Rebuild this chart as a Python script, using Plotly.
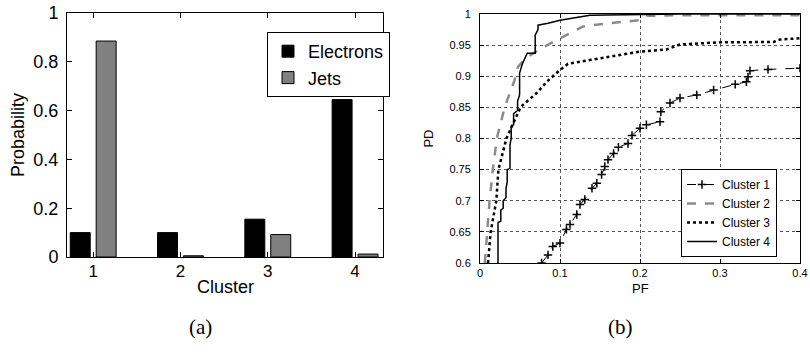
import plotly.graph_objects as go

# ---------------- data: panel (a) ----------------
clusters = [1, 2, 3, 4]
electrons = [0.10, 0.10, 0.155, 0.645]
jets = [0.885, 0.005, 0.092, 0.012]

# ---------------- data: panel (b) ROC curves ----------------
c1_pf = [0.077, 0.085, 0.091, 0.100, 0.108, 0.1125, 0.121, 0.125, 0.131, 0.140, 0.146, 0.152, 0.156, 0.160,
         0.167, 0.173, 0.185, 0.190, 0.200, 0.208, 0.225, 0.226, 0.2375, 0.250, 0.271, 0.292, 0.319, 0.333,
         0.335, 0.3375, 0.36, 0.40]
c1_pd = [0.600, 0.613, 0.6265, 0.632, 0.654, 0.662, 0.678, 0.694, 0.702, 0.720, 0.728, 0.742, 0.755, 0.766,
         0.776, 0.786, 0.792, 0.805, 0.8165, 0.822, 0.827, 0.843, 0.857, 0.865, 0.870, 0.878, 0.887, 0.891,
         0.899, 0.909, 0.911, 0.913]

c2_pf = [0.006, 0.009, 0.012, 0.016, 0.021, 0.031, 0.043, 0.0475, 0.055, 0.063, 0.081, 0.100, 0.1125, 0.129,
         0.160, 0.200, 0.208, 0.250, 0.400]
c2_pd = [0.600, 0.650, 0.700, 0.750, 0.800, 0.851, 0.893, 0.915, 0.926, 0.934, 0.948, 0.961, 0.969, 0.980,
         0.985, 0.990, 0.997, 0.998, 0.998]

c3_pf = [0.010, 0.0133, 0.0204, 0.023, 0.033, 0.038, 0.051, 0.070, 0.085, 0.100, 0.110, 0.1375, 0.200, 0.233,
         0.250, 0.300, 0.367, 0.375, 0.400]
c3_pd = [0.600, 0.650, 0.700, 0.750, 0.800, 0.815, 0.851, 0.872, 0.893, 0.910, 0.920, 0.926, 0.9395, 0.943,
         0.951, 0.9545, 0.955, 0.959, 0.961]

c4_pf = [0.0225, 0.0225, 0.026, 0.026, 0.029, 0.029, 0.0325, 0.0325, 0.034, 0.034, 0.0375, 0.0375, 0.039,
         0.039, 0.042, 0.042, 0.047, 0.047, 0.0495, 0.0495, 0.053, 0.059, 0.069, 0.069, 0.0725, 0.0725, 0.085,
         0.100, 0.1375, 0.200, 0.250, 0.400]
c4_pd = [0.600, 0.665, 0.667, 0.685, 0.688, 0.700, 0.705, 0.720, 0.730, 0.750, 0.752, 0.790, 0.800,
         0.820, 0.822, 0.840, 0.845, 0.860, 0.870, 0.905, 0.920, 0.937, 0.937, 0.966, 0.975, 0.982, 0.985,
         0.990, 0.998, 0.9995, 1.000, 1.000]

FONT = "Liberation Sans, Arial, sans-serif"
W, H = 810, 352

def px_x(p):
    return p / W

def px_y(p):
    return 1 - p / H

fig = go.Figure()

# panel (a) bars
fig.add_trace(go.Bar(x=clusters, y=electrons, name="Electrons", marker=dict(color="#000000", line=dict(color="#000000", width=1)),
                     xaxis="x", yaxis="y", legend="legend"))
fig.add_trace(go.Bar(x=clusters, y=jets, name="Jets", marker=dict(color="#808080", line=dict(color="#000000", width=1)),
                     xaxis="x", yaxis="y", legend="legend"))

# panel (b) curves
fig.add_trace(go.Scatter(x=c1_pf, y=c1_pd, name="Cluster 1", mode="lines+markers",
                         line=dict(color="#000000", width=1, dash="dash"),
                         marker=dict(symbol="cross-thin", size=6, line=dict(color="#000000", width=1.5)),
                         xaxis="x2", yaxis="y2", legend="legend2"))
fig.add_trace(go.Scatter(x=c2_pf, y=c2_pd, name="Cluster 2", mode="lines",
                         line=dict(color="#8c8c8c", width=2.5, dash="dash"),
                         xaxis="x2", yaxis="y2", legend="legend2"))
fig.add_trace(go.Scatter(x=c3_pf, y=c3_pd, name="Cluster 3", mode="lines",
                         line=dict(color="#000000", width=2.5, dash="dot"),
                         xaxis="x2", yaxis="y2", legend="legend2"))
fig.add_trace(go.Scatter(x=c4_pf, y=c4_pd, name="Cluster 4", mode="lines",
                         line=dict(color="#000000", width=1.5),
                         xaxis="x2", yaxis="y2", legend="legend2"))

axis_common = dict(showline=True, linecolor="#000000", linewidth=1, mirror="ticks", ticks="inside",
                   tickcolor="#000000", zeroline=False, color="#000000", automargin=False)

def label(text, x, y, size, family=FONT):
    return dict(text=text, x=px_x(x), y=px_y(y), xref="paper", yref="paper", showarrow=False,
                xanchor="center", yanchor="middle", font=dict(family=family, size=size))

fig.update_layout(
    width=W, height=H,
    margin=dict(l=0, r=0, t=0, b=0, autoexpand=False),
    paper_bgcolor="white", plot_bgcolor="white",
    font=dict(family=FONT, color="#000000"),
    barmode="group", bargap=0.406, bargroupgap=0.23,
    xaxis=dict(domain=[px_x(67), px_x(383)], anchor="y", range=[0.7, 4.32],
               tickvals=clusters, ticktext=[str(c) for c in clusters], ticklen=5,
               tickfont=dict(size=17), showgrid=False, ticklabelstandoff=-1, **axis_common),
    yaxis=dict(domain=[px_y(257), px_y(13)], anchor="x", range=[0, 1],
               tickvals=[0, 0.2, 0.4, 0.6, 0.8, 1], ticktext=["0", "0.2", "0.4", "0.6", "0.8", "1"],
               ticklen=5, tickfont=dict(size=18), showgrid=False, ticklabelstandoff=4,
               title=dict(text="Probability", font=dict(size=18), standoff=4), **axis_common),
    xaxis2=dict(domain=[px_x(480), px_x(800)], anchor="y2", range=[0, 0.4],
                tickvals=[0, 0.1, 0.2, 0.3, 0.4], ticktext=["0", "0.1", "0.2", "0.3", "0.4"],
                ticklen=4, tickfont=dict(size=11), showgrid=True, gridcolor="#555555", griddash="dot", gridwidth=1,
                **axis_common),
    yaxis2=dict(domain=[px_y(263), px_y(14)], anchor="x2", range=[0.6, 1],
                tickvals=[0.6, 0.65, 0.7, 0.75, 0.8, 0.85, 0.9, 0.95, 1],
                ticktext=["0.6", "0.65", "0.7", "0.75", "0.8", "0.85", "0.9", "0.95", "1"],
                ticklen=4, tickfont=dict(size=11), showgrid=True, gridcolor="#555555", griddash="dot", gridwidth=1,
                ticklabelstandoff=6,
                title=dict(text="PD", font=dict(size=13), standoff=12), **axis_common),
    legend=dict(x=px_x(267), y=px_y(32), xanchor="left", yanchor="top", bgcolor="white",
                bordercolor="#000000", borderwidth=1, font=dict(size=18), tracegroupgap=0),
    legend2=dict(x=px_x(681), y=px_y(169), xanchor="left", yanchor="top", bgcolor="white",
                 bordercolor="#000000", borderwidth=1, font=dict(size=12), tracegroupgap=0, itemwidth=30),
    annotations=[
        label("Cluster", 225, 287, 18),
        label("PF", 640, 288, 13),
        label("(a)", 200, 327, 21, "Liberation Serif, Times New Roman, serif"),
        label("(b)", 620, 327, 21, "Liberation Serif, Times New Roman, serif"),
    ],
)

fig.write_html("out.html")
